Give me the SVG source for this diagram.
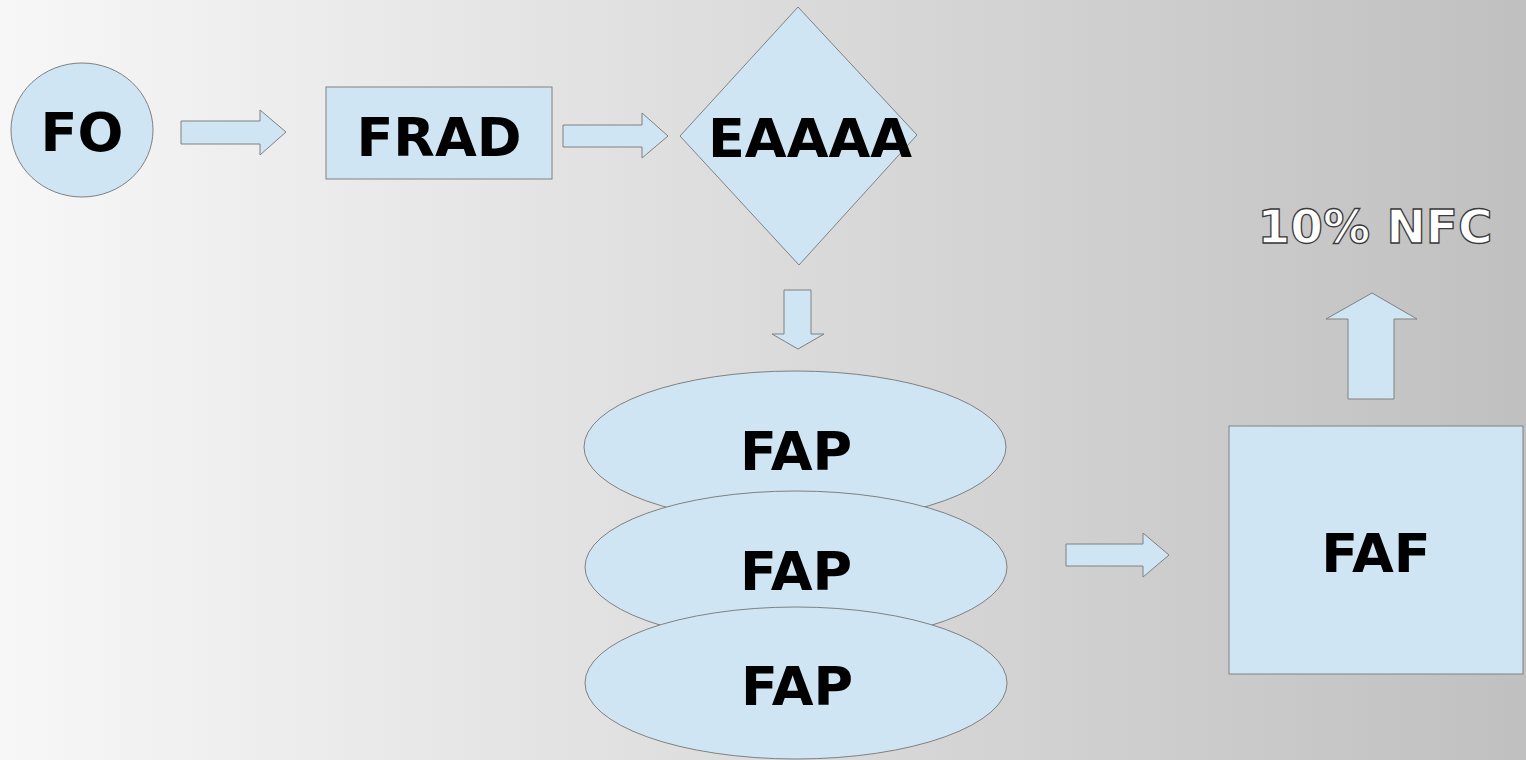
<svg xmlns="http://www.w3.org/2000/svg" width="1526" height="760" viewBox="0 0 1526 760">
  <defs>
    <linearGradient id="bg" x1="0" y1="0" x2="1" y2="0">
      <stop offset="0" stop-color="#f7f7f7"/>
      <stop offset="1" stop-color="#c0c0c0"/>
    </linearGradient>
  </defs>
  <style>
    .shape { fill: #cfe5f3; stroke: #808080; stroke-width: 1; }
    .lbl { font-family: "DejaVu Sans", "Liberation Sans", sans-serif; font-weight: bold; font-size: 54px; fill: #000; text-anchor: middle; }
    .out { font-family: "DejaVu Sans", "Liberation Sans", sans-serif; font-weight: bold; font-size: 47px; fill: #ffffff; stroke: #3a3a3a; stroke-width: 1.3; text-anchor: middle; }
  </style>
  <rect x="0" y="0" width="1526" height="760" fill="url(#bg)"/>

  <g id="connectors">
    <polygon class="shape" points="181,121 260,121 260,110 286,132 260,155 260,144 181,144"/>
    <polygon class="shape" points="563,125 642,125 642,113 668,136 642,158 642,147 563,147"/>
    <polygon class="shape" points="784,290 811,290 811,334 824,334 798,349 772,334 784,334"/>
    <polygon class="shape" points="1066,544 1143,544 1143,533 1169,555 1143,577 1143,566 1066,566"/>
    <polygon class="shape" points="1348,399 1348,319 1326,319 1372,293 1417,319 1394,319 1394,399"/>
  </g>

  <g id="node-fo">
    <ellipse class="shape" cx="82" cy="130" rx="71" ry="67"/>
    <text class="lbl" x="82" y="151">FO</text>
  </g>

  <g id="node-frad">
    <rect class="shape" x="326" y="87" width="226" height="92"/>
    <text class="lbl" x="439" y="156">FRAD</text>
  </g>

  <g id="node-eaaaa">
    <polygon class="shape" points="798,7 917,135 799,265 680,136"/>
    <text class="lbl" x="810" y="157">EAAAA</text>
  </g>

  <g id="node-fap1">
    <ellipse class="shape" cx="795" cy="447" rx="211" ry="76"/>
    <text class="lbl" x="796" y="470">FAP</text>
  </g>

  <g id="node-fap2">
    <ellipse class="shape" cx="796" cy="567" rx="211" ry="76"/>
    <text class="lbl" x="796" y="590">FAP</text>
  </g>

  <g id="node-fap3">
    <ellipse class="shape" cx="796" cy="683" rx="211" ry="76"/>
    <text class="lbl" x="797" y="705">FAP</text>
  </g>

  <g id="node-faf">
    <rect class="shape" x="1229" y="426" width="294" height="248"/>
    <text class="lbl" x="1376" y="572">FAF</text>
  </g>

  <g id="node-nfc">
    <text class="out" x="1375" y="243">10% NFC</text>
  </g>
</svg>
